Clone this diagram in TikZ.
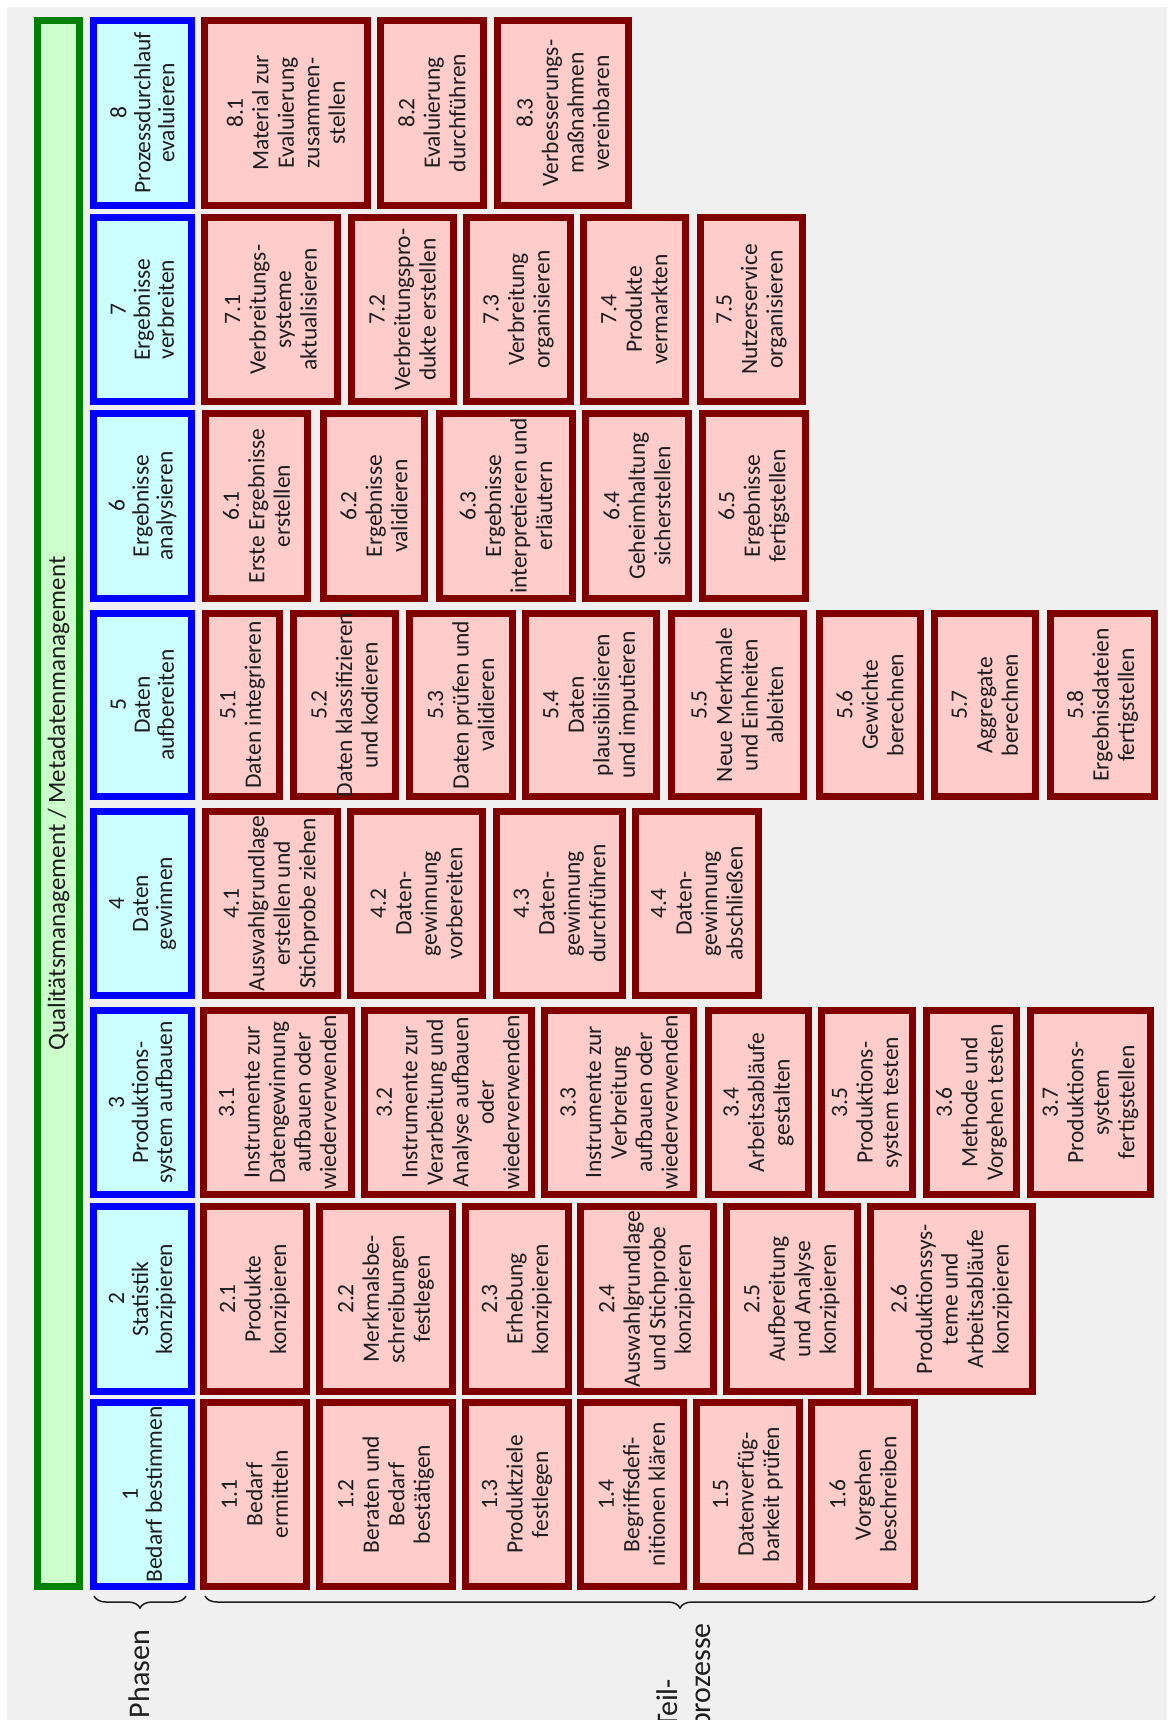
\documentclass[tikz,border=0pt]{standalone}
\usepackage{fontspec}
\setmainfont{Carlito}
\usetikzlibrary{decorations.pathreplacing}
\definecolor{bggray}{HTML}{F0F0F0}
\definecolor{subfill}{HTML}{FFCCCC}
\definecolor{subdraw}{HTML}{800000}
\definecolor{phfill}{HTML}{CCFFFF}
\definecolor{phdraw}{HTML}{0000FF}
\definecolor{qmfill}{HTML}{CCFFCC}
\definecolor{qmdraw}{HTML}{008000}
\definecolor{txt}{HTML}{1E1E1E}
\newcommand\pbx[7]{\node[#1, minimum width={(#6)-(#4)-7}, minimum height={(#5)-(#3)-7}] (#2) at ({((#3)+(#5))/2},{((#4)+(#6))/2}) {#7};}
\tikzset{
 boxbase/.style={rotate=90, inner sep=0pt, outer sep=0pt, line width=7pt, align=center, text=txt, font=\fontsize{23.5}{25.5}\selectfont},
 subbox/.style={boxbase, draw=subdraw, fill=subfill},
 phbox/.style={boxbase, draw=phdraw, fill=phfill, font=\fontsize{23.5}{24}\selectfont},
 qmbox/.style={boxbase, draw=qmdraw, fill=qmfill, font=\fontsize{25}{28}\selectfont},
 lab/.style={rotate=90, inner sep=0pt, text=txt, font=\fontsize{30}{33}\selectfont},
 brc/.style={decorate, decoration={brace, amplitude=12pt}, line width=1.5pt, draw=txt}
}
\begin{document}
\begin{tikzpicture}[x=1pt,y=-1pt]
\useasboundingbox (0,0) rectangle (1167,1720);
\fill[white] (0,0) rectangle (1167,1720);
\fill[bggray] (7,7) rectangle (1167,1720);
% quality management bar
\pbx{qmbox}{qm}{34}{17}{83}{1590}{Qualitätsmanagement / Metadatenmanagement}
% phases
\pbx{phbox}{p8}{90}{17}{195}{209}{8\\Prozessdurchlauf\\evaluieren}
\pbx{phbox}{p7}{90}{214}{195}{405}{7\\Ergebnisse\\verbreiten}
\pbx{phbox}{p6}{90}{410}{195}{602}{6\\Ergebnisse\\analysieren}
\pbx{phbox}{p5}{90}{610}{195}{800}{5\\Daten\\aufbereiten}
\pbx{phbox}{p4}{90}{808}{195}{999}{4\\Daten\\gewinnen}
\pbx{phbox}{p3}{90}{1007}{195}{1198}{3\\Produktions-\\system aufbauen}
\pbx{phbox}{p2}{90}{1203}{195}{1395}{2\\Statistik\\konzipieren}
\pbx{phbox}{p1}{90}{1399}{195}{1590}{1\\Bedarf bestimmen}
% row 8
\pbx{subbox}{s81}{201}{17}{371}{209}{8.1\\Material zur\\Evaluierung\\zusammen-\\stellen}
\pbx{subbox}{s82}{377}{17}{487}{209}{8.2\\Evaluierung\\durchführen}
\pbx{subbox}{s83}{494}{17}{632}{209}{8.3\\Verbesserungs-\\maßnahmen\\vereinbaren}
% row 7
\pbx{subbox}{s71}{201}{214}{341}{405}{7.1\\Verbreitungs-\\systeme\\aktualisieren}
\pbx{subbox}{s72}{348}{214}{457}{405}{7.2\\Verbreitungspro-\\dukte erstellen}
\pbx{subbox}{s73}{463}{214}{574}{405}{7.3\\Verbreitung\\organisieren}
\pbx{subbox}{s74}{580}{214}{689}{405}{7.4\\Produkte\\vermarkten}
\pbx{subbox}{s75}{697}{214}{806}{405}{7.5\\Nutzerservice\\organisieren}
% row 6
\pbx{subbox}{s61}{202}{410}{311}{602}{6.1\\Erste Ergebnisse\\erstellen}
\pbx{subbox}{s62}{320}{410}{428}{602}{6.2\\Ergebnisse\\validieren}
\pbx{subbox}{s63}{436}{410}{576}{602}{6.3\\Ergebnisse\\interpretieren und\\erläutern}
\pbx{subbox}{s64}{582}{410}{692}{602}{6.4\\Geheimhaltung\\sicherstellen}
\pbx{subbox}{s65}{699}{410}{809}{602}{6.5\\Ergebnisse\\fertigstellen}
% row 5
\pbx{subbox}{s51}{202}{610}{283}{800}{5.1\\Daten integrieren}
\pbx{subbox}{s52}{290}{610}{399}{800}{5.2\\\makebox[150pt]{Daten klassifizieren}\\und kodieren}
\pbx{subbox}{s53}{406}{610}{516}{800}{5.3\\Daten prüfen und\\validieren}
\pbx{subbox}{s54}{522}{610}{660}{800}{5.4\\Daten\\plausibilisieren\\und imputieren}
\pbx{subbox}{s55}{668}{610}{807}{800}{5.5\\Neue Merkmale\\und Einheiten\\ableiten}
\pbx{subbox}{s56}{816}{610}{924}{800}{5.6\\Gewichte\\berechnen}
\pbx{subbox}{s57}{931}{610}{1039}{800}{5.7\\Aggregate\\berechnen}
\pbx{subbox}{s58}{1047}{610}{1158}{800}{5.8\\Ergebnisdateien\\fertigstellen}
% row 4
\pbx{subbox}{s41}{202}{808}{341}{999}{4.1\\Auswahlgrundlage\\erstellen und\\Stichprobe ziehen}
\pbx{subbox}{s42}{347}{808}{486}{999}{4.2\\Daten-\\gewinnung\\vorbereiten}
\pbx{subbox}{s43}{493}{808}{626}{999}{4.3\\Daten-\\gewinnung\\durchführen}
\pbx{subbox}{s44}{632}{808}{762}{999}{4.4\\Daten-\\gewinnung\\abschließen}
% row 3
\pbx{subbox}{s31}{200}{1007}{355}{1198}{3.1\\Instrumente zur\\Datengewinnung\\aufbauen oder\\wiederverwenden}
\pbx{subbox}{s32}{361}{1007}{535}{1198}{3.2\\Instrumente zur\\Verarbeitung und\\Analyse aufbauen\\oder\\wiederverwenden}
\pbx{subbox}{s33}{541}{1007}{697}{1198}{3.3\\Instrumente zur\\Verbreitung\\aufbauen oder\\wiederverwenden}
\pbx{subbox}{s34}{705}{1007}{812}{1198}{3.4\\Arbeitsabläufe\\gestalten}
\pbx{subbox}{s35}{818}{1007}{916}{1198}{3.5\\Produktions-\\system testen}
\pbx{subbox}{s36}{923}{1007}{1020}{1198}{3.6\\Methode und\\Vorgehen testen}
\pbx{subbox}{s37}{1027}{1007}{1154}{1198}{3.7\\Produktions-\\system\\fertigstellen}
% row 2
\pbx{subbox}{s21}{200}{1203}{310}{1395}{2.1\\Produkte\\konzipieren}
\pbx{subbox}{s22}{316}{1203}{456}{1395}{2.2\\Merkmalsbe-\\schreibungen\\festlegen}
\pbx{subbox}{s23}{462}{1203}{572}{1395}{2.3\\Erhebung\\konzipieren}
\pbx{subbox}{s24}{577}{1203}{717}{1395}{2.4\\Auswahlgrundlage\\und Stichprobe\\konzipieren}
\pbx{subbox}{s25}{723}{1203}{861}{1395}{2.5\\Aufbereitung\\und Analyse\\konzipieren}
\pbx{subbox}{s26}{867}{1203}{1036}{1395}{2.6\\Produktionssys-\\teme und\\Arbeitsabläufe\\konzipieren}
% row 1
\pbx{subbox}{s11}{200}{1399}{310}{1590}{1.1\\Bedarf\\ermitteln}
\pbx{subbox}{s12}{316}{1399}{456}{1590}{1.2\\Beraten und\\Bedarf\\bestätigen}
\pbx{subbox}{s13}{462}{1399}{572}{1590}{1.3\\Produktziele\\festlegen}
\pbx{subbox}{s14}{577}{1399}{687}{1590}{1.4\\Begriffsdefi-\\nitionen klären}
\pbx{subbox}{s15}{693}{1399}{803}{1590}{1.5\\Datenverfüg-\\barkeit prüfen}
\pbx{subbox}{s16}{808}{1399}{918}{1590}{1.6\\Vorgehen\\beschreiben}
% braces
\coordinate (phL) at (94,1596);
\coordinate (phR) at (186,1596);
\coordinate (tpL) at (205,1596);
\coordinate (tpR) at (1155,1596);
\draw[brc] (phR) -- (phL);
\draw[brc] (tpR) -- (tpL);
% labels
\node[lab] (phasen) at (139,1674) {Phasen};
\node[lab, anchor=west, align=left] (teil) at (686,1729) {Teil-\\prozesse};
\end{tikzpicture}
\end{document}
